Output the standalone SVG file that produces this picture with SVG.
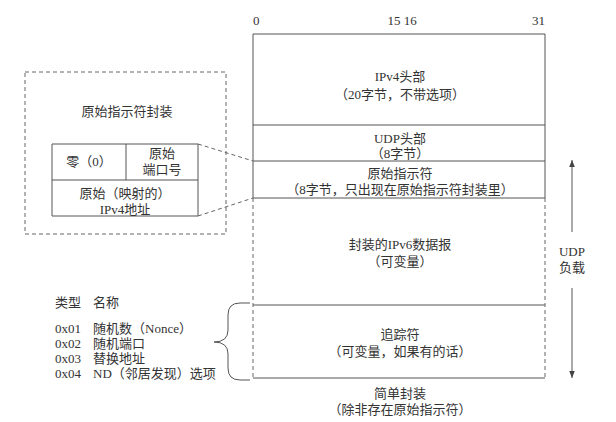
<svg xmlns="http://www.w3.org/2000/svg" width="616" height="422" viewBox="0 0 616 422">
<style>
text{font-family:"Liberation Serif","Noto Sans CJK SC",serif;font-size:13px;fill:#333;}
.c{text-anchor:middle;}
.s{fill:none;stroke:#555;stroke-width:1;}
.d{fill:none;stroke:#666;stroke-width:1;stroke-dasharray:4 3;}
</style>
<defs>
<marker id="ah" viewBox="0 0 10 10" refX="10" refY="5" markerWidth="7" markerHeight="7" orient="auto-start-reverse" markerUnits="userSpaceOnUse">
<path d="M0,1 L10,5 L0,9 Z" fill="#444"/>
</marker>
</defs>
<rect width="616" height="422" fill="#fff"/>

<g id="bits">
<text x="253" y="25">0</text>
<text x="402" y="25" class="c">15 16</text>
<text x="545" y="25" text-anchor="end">31</text>
</g>

<g id="packet">
<path class="s" d="M253,34 H545 V198 M253,34 V198 M253,125 H545 M253,161 H545 M253,198 H545 M253,305 H545 M253,378 H545"/>
<path class="d" d="M253,198 V378 M545,198 V378"/>
</g>
<g id="ipv4">
<text x="400" y="81" class="c">IPv4头部</text>
<text x="400" y="99" class="c">（20字节，不带选项）</text>
</g>
<g id="udp">
<text x="400" y="143" class="c">UDP头部</text>
<text x="400" y="158" class="c">（8字节）</text>
</g>
<g id="origin">
<text x="400" y="178" class="c">原始指示符</text>
<text x="400" y="194" class="c">（8字节，只出现在原始指示符封装里）</text>
</g>
<g id="ipv6">
<text x="400" y="249" class="c">封装的IPv6数据报</text>
<text x="400" y="266" class="c">（可变量）</text>
</g>
<g id="trailer">
<text x="400" y="339" class="c">追踪符</text>
<text x="400" y="356" class="c">（可变量，如果有的话）</text>
</g>
<g id="caption">
<text x="400" y="398" class="c">简单封装</text>
<text x="400" y="414" class="c">（除非存在原始指示符）</text>
</g>

<g id="payload">
<text x="572" y="256" class="c">UDP</text>
<text x="572" y="272" class="c">负载</text>
</g>

<g id="origin-encap">
<rect class="d" x="25" y="72" width="201" height="162"/>
<text x="127" y="116" class="c">原始指示符封装</text>
<path class="s" d="M52,144 H198 V216 H52 Z M52,180 H198 M126,144 V180"/>
<text x="89" y="166" class="c">零（0）</text>
<text x="162" y="158" class="c">原始</text>
<text x="162" y="174" class="c">端口号</text>
<text x="125" y="198" class="c">原始（映射的）</text>
<text x="125" y="214" class="c">IPv4地址</text>
</g>

<g id="legend">
<text x="55" y="307">类型</text>
<text x="93" y="307">名称</text>
<text x="55" y="333">0x01</text><text x="93" y="333">随机数（Nonce）</text>
<text x="55" y="348">0x02</text><text x="93" y="348">随机端口</text>
<text x="55" y="363">0x03</text><text x="93" y="363">替换地址</text>
<text x="55" y="378">0x04</text><text x="93" y="378">ND（邻居发现）选项</text>
</g>

<g id="connectors">
<path class="d" d="M198,144 L253,161 M198,216 L253,198"/>
<path class="s" d="M572,232 V160" marker-end="url(#ah)"/>
<path class="s" d="M572,288 V378" marker-end="url(#ah)"/>
<path class="s" d="M250,303 H240 Q228,303 228,315 V330 Q228,342 214,342 Q228,342 228,354 V368 Q228,380 240,380 H250"/>
</g>
</svg>
